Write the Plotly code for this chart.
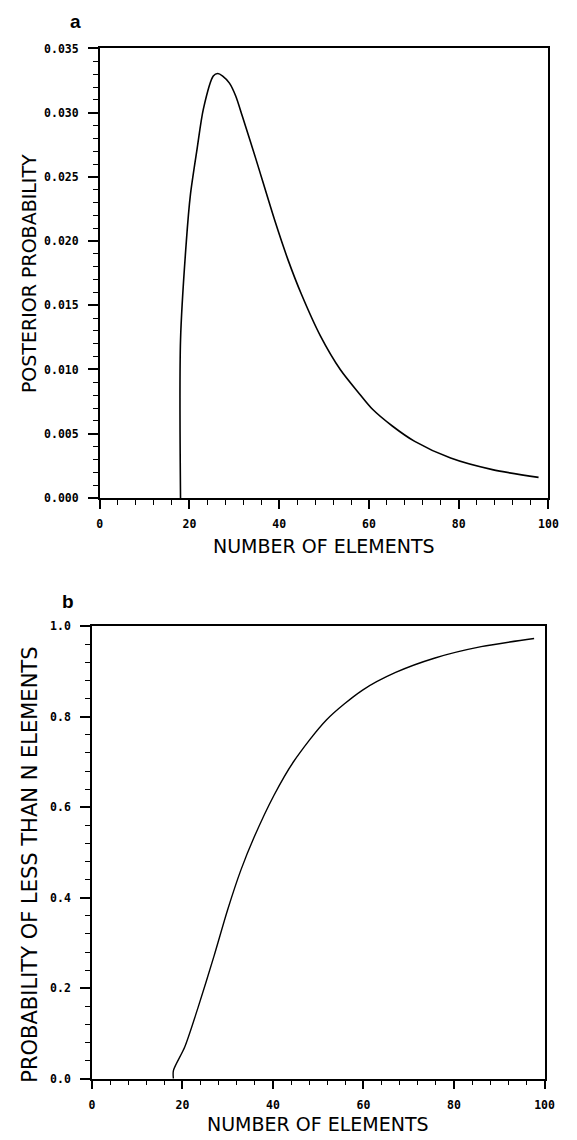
import plotly.graph_objects as go

# Panel a: posterior probability vs number of elements
n_a = [18, 18, 19.3, 20.2, 21.7, 23.1, 25.3, 26.3, 27.4, 28.9, 30.3, 31.8, 34.7, 39.1, 42.0,
       44.9, 49.2, 53.6, 57.9, 60.8, 65.2, 70.2, 78.2, 87.5, 97.8]
p_a = [0.0, 0.0123, 0.0200, 0.0236, 0.0272, 0.0303, 0.03285, 0.03305, 0.03285, 0.0323,
       0.0313, 0.0297, 0.0265, 0.0215, 0.0185, 0.0159, 0.0126, 0.0100, 0.0081, 0.0069,
       0.0056, 0.0044, 0.0031, 0.0022, 0.0016]

# Panel b: cumulative probability of fewer than N elements
n_b = [18, 18, 20.5, 23.4, 27.0, 30.0, 32.9, 35.8, 40.2, 44.5, 51.8, 59.8, 67.1, 75.8, 86.0, 97.7]
p_b = [0.0, 0.018, 0.07, 0.156, 0.272, 0.374, 0.461, 0.533, 0.626, 0.700, 0.793, 0.859,
       0.898, 0.930, 0.955, 0.973]

x_ticks = [0, 20, 40, 60, 80, 100]
ya_ticks = [0.000, 0.005, 0.010, 0.015, 0.020, 0.025, 0.030, 0.035]
ya_labels = ["0.000", "0.005", "0.010", "0.015", "0.020", "0.025", "0.030", "0.035"]
yb_ticks = [0.0, 0.2, 0.4, 0.6, 0.8, 1.0]
yb_labels = ["0.0", "0.2", "0.4", "0.6", "0.8", "1.0"]

W, H = 577, 1140
tickfont = dict(family="DejaVu Sans Mono", size=11.5, color="black", weight="bold")
titlefont = dict(family="DejaVu Sans", size=19, color="black")

fig = go.Figure()
fig.add_trace(go.Scatter(x=n_a, y=p_a, mode="lines", line=dict(color="black", width=1.6, shape="spline", smoothing=0.8),
                         xaxis="x", yaxis="y", showlegend=False, hoverinfo="skip"))
fig.add_trace(go.Scatter(x=n_b, y=p_b, mode="lines", line=dict(color="black", width=1.4, shape="spline", smoothing=0.8),
                         xaxis="x2", yaxis="y2", showlegend=False, hoverinfo="skip"))

def xax(domain, anchor):
    return dict(domain=domain, anchor=anchor, range=[0, 100], tickvals=x_ticks,
                ticktext=[str(v) for v in x_ticks], ticks="outside", ticklen=9, tickwidth=1.5,
                tickcolor="black", showline=True, linecolor="black", linewidth=1.6, mirror=True,
                showgrid=False, zeroline=False, tickfont=tickfont, ticklabelstandoff=6,
                minor=dict(dtick=4, tick0=0, ticks="outside", ticklen=5, tickwidth=1.2,
                           tickcolor="black", showgrid=False))

def yax(domain, anchor, rng, tv, tt, mdt):
    return dict(domain=domain, anchor=anchor, range=rng, tickvals=tv, ticktext=tt,
                ticks="outside", ticklen=10, tickwidth=1.5, tickcolor="black",
                showline=True, linecolor="black", linewidth=1.6, mirror=True,
                showgrid=False, zeroline=False, tickfont=tickfont, ticklabelstandoff=7,
                minor=dict(dtick=mdt, tick0=0, ticks="outside", ticklen=5, tickwidth=1.2,
                           tickcolor="black", showgrid=False))

fig.update_layout(
    width=W, height=H,
    margin=dict(l=0, r=0, t=0, b=0),
    paper_bgcolor="white", plot_bgcolor="white",
    xaxis=xax([99 / W, 558 / W], "y"),
    yaxis=yax([1 - 497 / H, 1 - 42 / H], "x", [0, 0.035], ya_ticks, ya_labels, 0.001),
    xaxis2=xax([91 / W, 554 / W], "y2"),
    yaxis2=yax([1 - 1085 / H, 1 - 627 / H], "x2", [0, 1.0], yb_ticks, yb_labels, 0.04),
)

def ann(text, px, py, font, angle=0):
    return dict(text=text, x=px / W, y=1 - py / H, xref="paper", yref="paper",
                xanchor="center", yanchor="middle", showarrow=False, font=font, textangle=angle)

fig.update_layout(annotations=[
    ann("a", 74, 15, dict(family="Liberation Sans", size=19, color="black", weight="bold")),
    ann("b", 67, 602, dict(family="Liberation Sans", size=19, color="black", weight="bold")),
    ann("POSTERIOR PROBABILITY", 26, 270, titlefont, -90),
    ann("NUMBER OF ELEMENTS", 328, 546, titlefont),
    ann("PROBABILITY OF LESS THAN N ELEMENTS", 28, 868, dict(family="DejaVu Sans", size=21, color="black"), -90),
    ann("NUMBER OF ELEMENTS", 322, 1131, titlefont),
])

fig.write_html("out.html", config={"displayModeBar": False},
               post_script="document.body.style.margin='0';")
